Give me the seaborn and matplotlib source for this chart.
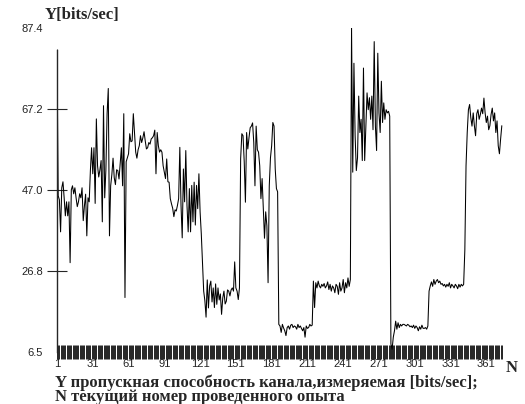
import matplotlib
matplotlib.use('Agg')
import numpy as np
import pandas as pd
import matplotlib.pyplot as plt
import seaborn as sns

sns.set_style("white")
plt.rcParams['font.family'] = ['Liberation Sans', 'DejaVu Sans']

y_1_60 = [82, 45.5, 44.5, 36.5, 47.5, 49, 45, 40.5, 44, 40.5,
          44, 28.8, 47, 48, 46, 47.5, 45, 42.8, 44, 46,
          45, 47.5, 39.3, 43, 45.9, 35.5, 45, 44, 51.8, 57.5,
          51, 57.5, 43.6, 64.7, 53, 50.2, 52, 54.3, 39, 68,
          45, 52, 66, 72.3, 35.5, 48, 50.8, 54.9, 50, 48.3,
          52, 51.8, 49.7, 53.5, 57.5, 48, 66, 20.1, 54, 55]
y_61_127 = [56, 61, 59, 59.2, 66, 61, 56.4, 54.9, 57, 58,
            60.5, 58.8, 60, 61.5, 59.2, 57.2, 57.5, 58.8, 58.4, 59.7,
            60, 60.5, 61.9, 51, 61.3, 58, 56.4, 57, 56.4, 53,
            51.4, 49.8, 54.7, 49, 48.9, 44.8, 43.5, 42.4, 40.3, 42,
            41.7, 43.1, 44.8, 57.6, 43.1, 35, 52.2, 44, 56.8, 43.1,
            36.5, 47.3, 36.5, 48.1, 39, 48.9, 38.2, 48.1, 42.3, 51,
            41.5, 36, 28.8, 21.7, 19.3, 15.2, 24.5]
y_128_187 = [17.5, 23, 24.2, 19, 22.5, 17.6, 23.5, 18.4, 22.5, 19.5,
             21, 15.9, 20, 21.7, 18.5, 19.2, 22, 21.7, 20.5, 22,
             22.5, 21.7, 29, 22.5, 21.7, 19.6, 22.5, 54.8, 61, 60.5,
             54, 43.9, 61.3, 57.2, 60, 62.5, 62.9, 63.7, 58.8, 48,
             62.9, 57, 56.4, 53, 44.8, 49.8, 42.3, 34.9, 41.5, 38,
             23.8, 48, 55, 58, 63.8, 62.9, 52.2, 47.3, 46.5, 13.4]
y_188_247 = [13.0, 11.4, 13.4, 12.5, 11.8, 10.6, 12.6, 13.0, 12.2, 13.2,
             13.4, 12.6, 13.0, 12.8, 12.2, 13.4, 12.6, 13.0, 12.4, 11.8,
             12.6, 10.2, 13.0, 12.4, 12.6, 13.4, 13.0, 13.2, 24.2, 17.6,
             23.8, 22.5, 24.2, 23.0, 22.5, 23.4, 22.9, 23.6, 22.5, 23.0,
             24.0, 22.1, 23.4, 21.7, 23.0, 22.5, 21.3, 23.4, 22.9, 20.9,
             23.8, 21.7, 22.5, 24.6, 21.3, 23.8, 22.5, 25.0, 22.9, 24.6]
y_248_312 = [87.4, 51.4, 78.6, 60.5, 51.8, 55, 70.4, 61.3, 64.6, 54.3,
             77.4, 54.3, 63, 71.2, 67, 70, 64.6, 70.4, 62, 84,
             62.9, 56.8, 81.1, 66.2, 61.3, 74.1, 63.8, 68.7, 64.6, 67,
             66.2, 66.6, 65.4, 8.5, 7.2, 10.2, 11.8, 14.2, 12.2, 13.8,
             12.6, 13.4, 13.0, 13.4, 13.4, 13.2, 13.0, 13.4, 13.2, 12.8,
             13.0, 12.6, 13.2, 12.4, 13.0, 12.6, 11.8, 12.8, 12.2, 13.2,
             12.4, 12.4, 12.6, 12.2, 13.0]
y_313_374 = [21.7, 23.0, 24.0, 22.9, 24.6, 23.4, 24.2, 24.6, 23.8, 24.2,
             23.4, 23.6, 23.0, 23.4, 22.7, 23.4, 22.9, 23.8, 22.5, 23.4,
             23.0, 22.5, 23.4, 23.0, 22.3, 23.4, 22.7, 23.4, 23.0, 23.4,
             32, 53, 61.3, 67, 68.3, 65, 62.9, 66.2, 63, 60.5,
             66, 67, 64.6, 65.8, 67.4, 66, 69.9, 66.2, 63.8, 65.4,
             62, 63, 65.8, 67.4, 64.2, 66.2, 61.3, 64.2, 58, 56,
             59.7, 63]

y_values = y_1_60 + y_61_127 + y_128_187 + y_188_247 + y_248_312 + y_313_374
n_values = list(range(1, len(y_values) + 1))

y_ticks = [6.5, 26.8, 47.0, 67.2, 87.4]
y_ticklabels = ["6.5", "26.8", "47.0", "67.2", "87.4"]
x_ticks = list(range(1, 362, 30))

caption = ("Y пропускная способность канала,измеряемая [bits/sec];\n"
           "N текущий номер проведенного опыта")

df = pd.DataFrame({"N": n_values, "Y": y_values})

W, H = 525, 404
fig = plt.figure(figsize=(W / 100, H / 100), dpi=100)
ax = fig.add_axes([57 / W, 1 - 352 / H, 446 / W, 324 / H])

sns.lineplot(data=df, x="N", y="Y", ax=ax, color="black", lw=0.75)

ax.set_xlim(1, 375)
ax.set_ylim(6.5, 87.4)
ax.set_xlabel("")
ax.set_ylabel("")

for s in ["top", "right", "bottom"]:
    ax.spines[s].set_visible(False)
ax.spines["left"].set_bounds(6.5, 82)
ax.spines["left"].set_linewidth(1.0)

ax.set_yticks(y_ticks)
ax.set_yticklabels(y_ticklabels)
ax.tick_params(axis="y", direction="inout", length=14.4, width=0.8,
               pad=3, labelsize=8, labelcolor="#222222", left=True)
yt = ax.yaxis.get_major_ticks()
yt[0].tick1line.set_visible(False)
yt[-1].tick1line.set_visible(False)

# dense bar code of ticks, one per experiment
ax.set_xticks(x_ticks)
ax.set_xticklabels([str(t) for t in x_ticks])
ax.set_xticks(n_values, minor=True)
ax.tick_params(axis="x", which="both", direction="inout", length=9.4,
               width=0.6, color="black", bottom=True)
ax.tick_params(axis="x", which="major", pad=0.5, labelsize=8,
               labelcolor="#222222")

serif = ["Liberation Serif", "DejaVu Serif"]
fig.text(82 / W, 1 - 15 / H, "Y[bits/sec]", family=serif, weight="bold",
         fontsize=12, ha="center", va="center")
fig.text(512 / W, 1 - 368 / H, "N", family=serif, weight="bold",
         fontsize=12, ha="center", va="center")
fig.text(55 / W, 1 - 390 / H, caption, family=serif, weight="bold",
         fontsize=12, ha="left", va="center", linespacing=0.85)

fig.savefig("out.png", dpi=100)
